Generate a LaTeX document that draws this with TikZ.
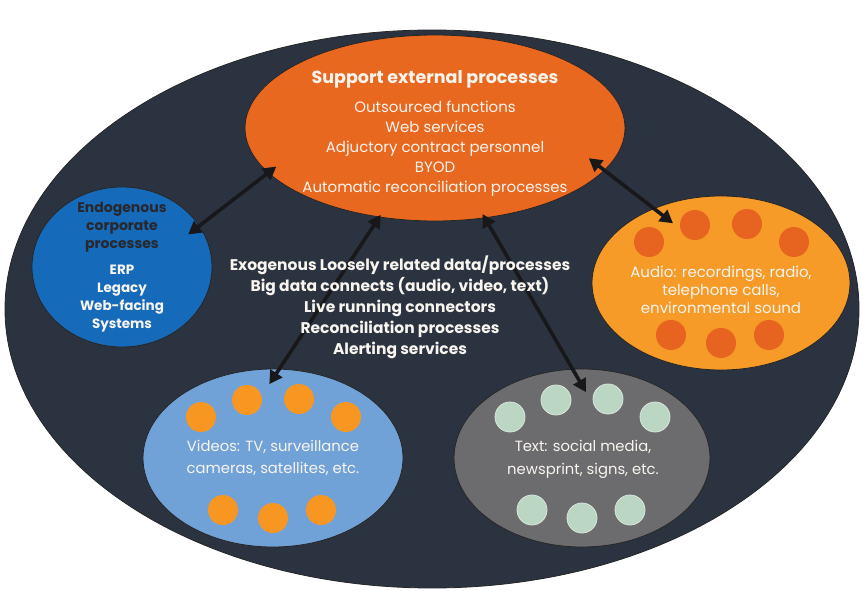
\documentclass[tikz,border=0pt]{standalone}
\usepackage{fontspec}
\setmainfont{Poppins}
\usetikzlibrary{arrows.meta,shapes.geometric,calc}
\definecolor{slate}{RGB}{44,51,64}
\definecolor{supportorange}{RGB}{232,104,32}
\definecolor{endoblue}{RGB}{22,106,186}
\definecolor{audioorange}{RGB}{246,154,40}
\definecolor{audiodot}{RGB}{230,100,32}
\definecolor{videoblue}{RGB}{112,162,216}
\definecolor{videodot}{RGB}{247,150,32}
\definecolor{socialgray}{RGB}{108,108,110}
\definecolor{socialdot}{RGB}{188,214,196}
\definecolor{inkdark}{RGB}{40,40,44}
\definecolor{inklight}{RGB}{248,244,238}
\definecolor{linkblack}{RGB}{24,24,26}
\begin{document}
\begin{tikzpicture}[x=1pt,y=-1pt,
    blob/.style={ellipse,draw=black!85,line width=0.8pt,inner sep=0pt,outer sep=0pt},
    txt/.style={text=inklight,align=center,font=\fontsize{15}{18}\selectfont},
    link/.style={{Triangle[length=13pt,width=14pt]}-{Triangle[length=13pt,width=14pt]},line width=3.6pt,draw=linkblack},
    vdot/.style={fill=videodot},
    sdot/.style={fill=socialdot,draw=socialdot!60!white,line width=0.8pt},
    adot/.style={fill=audiodot}]
    \useasboundingbox (0,0) rectangle (863,591);
    % shapes
    \node[blob,fill=slate,minimum width=854pt,minimum height=558pt] (world) at (432,309) {};
    \node[blob,fill=supportorange,minimum width=380pt,minimum height=186pt] (support) at (435,128) {};
    \node[blob,fill=endoblue,minimum width=180pt,minimum height=160pt] (endo) at (122,267) {};
    \node[blob,fill=audioorange,minimum width=258pt,minimum height=174pt] (audio) at (721,283) {};
    \node[blob,fill=videoblue,minimum width=260pt,minimum height=178pt] (video) at (273,458) {};
    \node[blob,fill=socialgray,minimum width=256pt,minimum height=178pt] (social) at (582,458) {};
    % dots round the media ellipses
    \foreach \e/\c in {video/vdot, social/sdot, audio/adot} {
        \foreach \dx/\dy in {-72/-41,-26/-58,26/-59,73/-41,-50/52,0/60,48/52} {
            \path[\c] ($(\e)+(\dx,\dy)$) circle (15pt);
        }
    }
    % links
    \draw[link,shorten <=-14pt,shorten >=-10pt] (endo.28.9) -- (support.195.5);
    \draw[link,shorten <=-19.6pt,shorten >=-24pt] (support.346.3) -- (audio.132.3);
    \draw[link,shorten <=-2.5pt,shorten >=-18pt] (support.238.6) -- (video.86.8);
    \draw[link,shorten <=-4.2pt,shorten >=-26.5pt] (support.299.2) -- (social.96);
    % texts
    \node[txt,font=\fontsize{15}{20}\selectfont] (supporttxt) at (435,133)
        {{\bfseries\fontsize{17.5}{20}\selectfont Support external processes}\\[9pt]
         Outsourced functions\\ Web services\\ Adjuctory contract personnel\\
         BYOD\\ Automatic reconciliation processes};
    \node[txt,font=\bfseries\fontsize{13.5}{18}\selectfont] (endotxt) at (endo)
        {\textcolor{inkdark}{\fontsize{14}{18}\selectfont Endogenous}\\
         \textcolor{inkdark}{\fontsize{14}{18}\selectfont corporate}\\
         \textcolor{inkdark}{\fontsize{14}{18}\selectfont processes}\\[8pt]
         ERP\\ Legacy\\ Web-facing\\ Systems};
    \node[txt,font=\bfseries\fontsize{15.5}{21}\selectfont] (exotxt) at (400,307)
        {Exogenous Loosely related data/processes\\
         Big data connects (audio, video, text)\\
         Live running connectors\\ Reconciliation processes\\ Alerting services};
    \node[txt] (audiotxt) at (721,290)
        {Audio: recordings, radio,\\ telephone calls,\\ environmental sound};
    \node[txt,font=\fontsize{14.8}{22}\selectfont] (videotxt) at (273,458)
        {Videos: TV, surveillance\\ cameras, satellites, etc.};
    \node[txt,font=\fontsize{14.8}{23}\selectfont] (socialtxt) at (583,459)
        {Text: social media,\\ newsprint, signs, etc.};
\end{tikzpicture}
\end{document}
